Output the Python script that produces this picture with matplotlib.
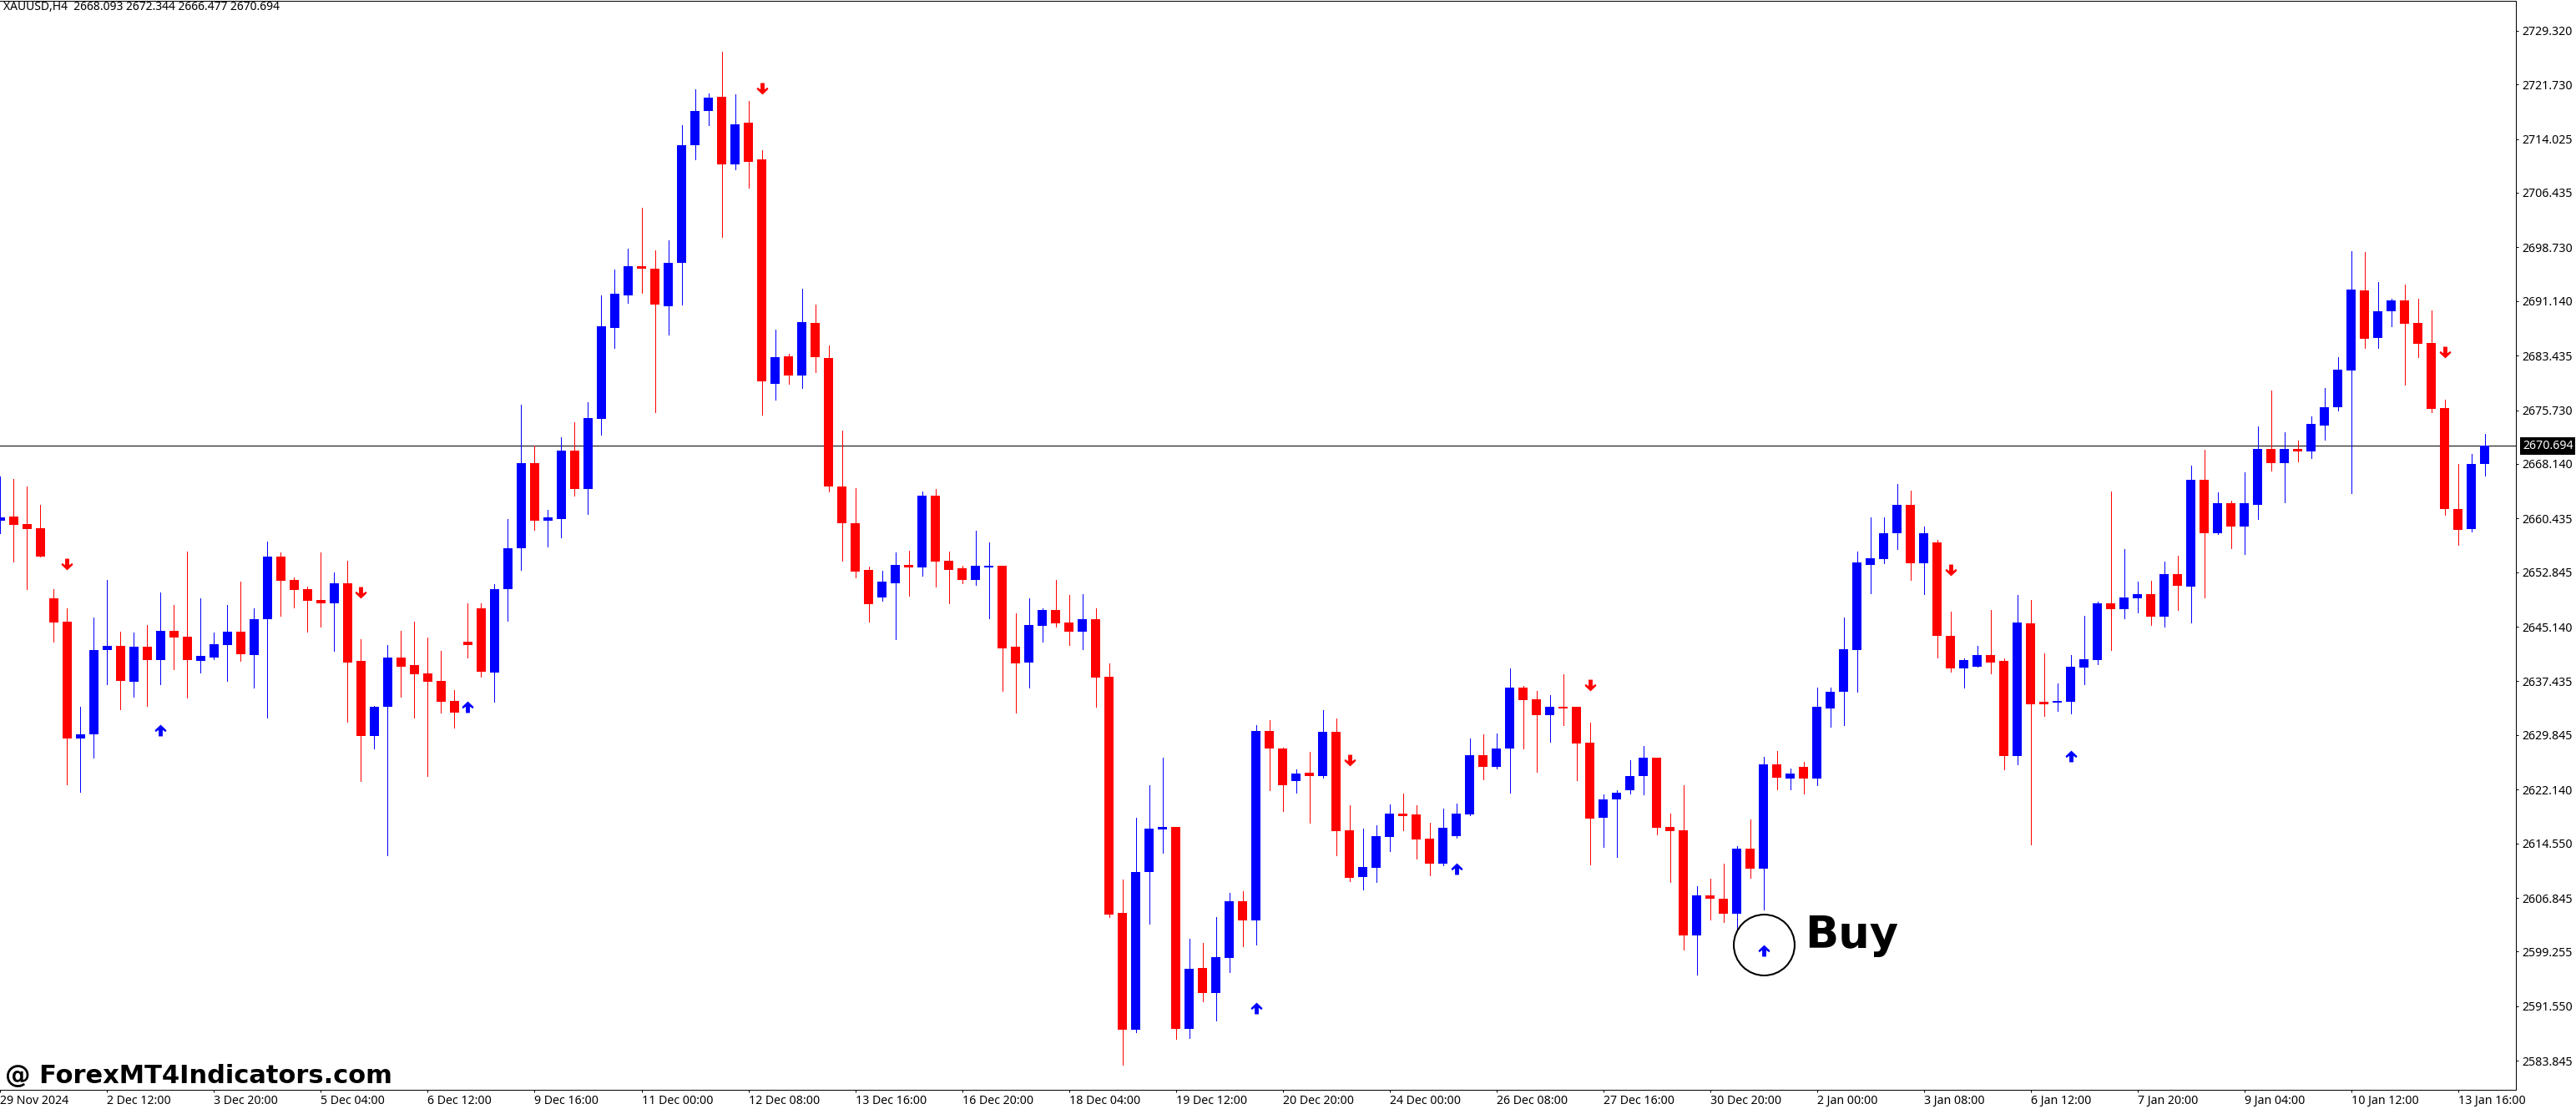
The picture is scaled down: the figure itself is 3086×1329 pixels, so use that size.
#!/usr/bin/env python

import matplotlib
matplotlib.use('Agg')
import matplotlib.pyplot as plt
from matplotlib.path import Path
import numpy as np

plt.rcParams['font.family'] = ['Noto Sans', 'DejaVu Sans']

# b = bull candle (blue), r = bear candle (red)
directions = ("brrrrrbbbr" "brbrrbbbrb" "brrrrbrrbb" "rrrrrrrbbb" "rbbrbbbbrr"
              "bbbbrbrrbr" "brrrrrbbrb" "rrrbbrrbbr" "rbrrrbbbrb" "rbbrbrrbrb"
              "rrbbbrrrbb" "brbbrrbrrr" "bbbbrrrbrr" "brbrbrbbbb" "bbbrbrrbbr"
              "rbrrbbbbrb" "brbrbrbrbb" "rbrbbbbrbb" "rrrrrbb")

highs = [2666.4, 2666.0, 2665.0, 2662.3, 2650.4, 2647.7, 2633.8, 2646.4, 2651.8, 2644.4,
         2644.3, 2645.4, 2650.0, 2648.2, 2655.7, 2649.2, 2644.3, 2648.2, 2651.5, 2647.8,
         2657.2, 2655.6, 2652.1, 2650.8, 2655.6, 2652.8, 2654.5, 2643.4, 2634.0, 2642.6,
         2644.6, 2645.8, 2643.6, 2641.7, 2636.2, 2648.5, 2648.4, 2651.2, 2660.4, 2676.5,
         2670.7, 2661.7, 2671.9, 2674.0, 2676.9, 2691.9, 2695.6, 2698.5, 2704.3, 2698.3,
         2699.7, 2716.0, 2721.1, 2720.5, 2726.3, 2720.4, 2719.4, 2712.5, 2687.1, 2683.7,
         2692.9, 2690.6, 2684.9, 2672.9, 2664.7, 2653.6, 2653.1, 2655.6, 2655.9, 2664.2,
         2664.6, 2655.8, 2653.7, 2658.7, 2657.1, 2653.8, 2647.0, 2649.1, 2647.7, 2651.7,
         2649.6, 2649.8, 2647.8, 2640.0, 2609.4, 2618.2, 2622.8, 2626.6, 2616.9, 2601.1,
         2600.5, 2604.1, 2607.6, 2607.8, 2631.3, 2632.0, 2628.1, 2625.0, 2627.5, 2633.4,
         2632.2, 2619.9, 2616.6, 2617.1, 2620.1, 2621.6, 2619.9, 2617.4, 2619.5, 2620.2,
         2629.3, 2629.9, 2630.1, 2639.2, 2636.8, 2636.1, 2635.5, 2638.4, 2633.8, 2631.6,
         2621.5, 2622.0, 2626.3, 2628.3, 2626.7, 2618.8, 2622.8, 2608.5, 2609.6, 2611.7,
         2614.2, 2617.9, 2626.8, 2627.6, 2625.1, 2626.0, 2636.6, 2636.5, 2646.4, 2655.8,
         2660.6, 2660.6, 2665.3, 2664.4, 2659.3, 2657.4, 2647.3, 2640.7, 2642.4, 2647.5,
         2640.7, 2649.6, 2648.9, 2641.4, 2637.1, 2641.2, 2646.7, 2648.7, 2664.3, 2656.1,
         2651.5, 2651.6, 2654.4, 2655.2, 2667.9, 2670.1, 2664.1, 2662.9, 2667.0, 2673.4,
         2678.5, 2672.6, 2671.4, 2674.8, 2678.8, 2683.2, 2698.2, 2698.1, 2693.8, 2691.5,
         2693.5, 2691.5, 2689.8, 2677.2, 2668.1, 2669.5, 2672.344]

body_tops = [2660.6, 2660.7, 2659.7, 2659.0, 2649.1, 2645.8, 2630.0, 2641.9, 2642.4, 2642.4,
             2642.3, 2642.3, 2644.6, 2644.6, 2643.7, 2641.0, 2642.7, 2644.5, 2644.5, 2646.2,
             2655.1, 2655.1, 2651.7, 2650.4, 2648.9, 2651.3, 2651.3, 2640.3, 2633.8, 2640.8,
             2640.8, 2639.7, 2638.5, 2637.5, 2634.7, 2643.0, 2647.8, 2650.5, 2656.2, 2668.3,
             2668.2, 2660.6, 2670.0, 2670.0, 2674.6, 2687.6, 2692.2, 2696.1, 2696.1, 2695.7,
             2696.5, 2713.2, 2718.0, 2719.9, 2720.0, 2716.1, 2716.3, 2711.1, 2683.2, 2683.3,
             2688.2, 2688.0, 2683.1, 2664.9, 2659.8, 2653.2, 2651.5, 2653.9, 2653.9, 2663.6,
             2663.6, 2654.5, 2653.4, 2653.7, 2653.8, 2653.8, 2642.3, 2645.4, 2647.5, 2647.5,
             2645.7, 2646.2, 2646.2, 2638.1, 2604.7, 2610.5, 2616.6, 2616.9, 2616.9, 2596.8,
             2596.9, 2598.5, 2606.4, 2606.4, 2630.4, 2630.4, 2628.0, 2624.4, 2624.5, 2630.3,
             2630.3, 2616.4, 2611.2, 2615.6, 2618.8, 2618.8, 2618.6, 2615.2, 2616.8, 2618.8,
             2627.0, 2627.0, 2628.0, 2636.5, 2636.6, 2634.9, 2633.8, 2633.8, 2633.8, 2628.8,
             2620.8, 2621.7, 2624.1, 2626.7, 2626.7, 2616.9, 2616.4, 2607.2, 2607.2, 2606.7,
             2613.8, 2613.8, 2625.7, 2625.7, 2624.4, 2625.3, 2633.8, 2635.9, 2642.0, 2654.2,
             2654.8, 2658.4, 2662.3, 2662.3, 2658.4, 2657.0, 2643.8, 2640.4, 2641.1, 2641.1,
             2640.3, 2645.7, 2645.6, 2634.5, 2634.7, 2639.5, 2640.5, 2648.4, 2648.4, 2649.3,
             2649.8, 2649.8, 2652.6, 2652.6, 2665.9, 2665.9, 2662.6, 2662.6, 2662.6, 2670.3,
             2670.2, 2670.2, 2670.3, 2673.8, 2676.2, 2681.4, 2692.8, 2692.6, 2689.7, 2691.2,
             2691.2, 2688.0, 2685.2, 2676.0, 2661.8, 2668.1, 2670.694]

body_bottoms = [2660.1, 2659.5, 2658.9, 2655.1, 2645.7, 2629.3, 2629.3, 2629.9, 2641.8, 2637.5,
                2637.4, 2640.4, 2640.4, 2643.6, 2640.4, 2640.3, 2640.8, 2642.6, 2641.3, 2641.2,
                2646.2, 2651.6, 2650.3, 2648.8, 2648.5, 2648.5, 2640.1, 2629.7, 2629.7, 2633.8,
                2639.5, 2638.4, 2637.4, 2634.5, 2633.0, 2642.5, 2638.8, 2638.7, 2650.4, 2656.2,
                2660.1, 2660.1, 2660.4, 2664.6, 2664.6, 2674.5, 2687.3, 2691.9, 2695.7, 2690.6,
                2690.4, 2696.5, 2713.2, 2718.0, 2710.4, 2710.5, 2710.8, 2679.8, 2679.5, 2680.6,
                2680.6, 2683.2, 2664.9, 2659.8, 2652.9, 2648.3, 2649.3, 2651.3, 2653.5, 2653.5,
                2654.4, 2653.2, 2651.7, 2651.7, 2653.5, 2642.1, 2640.0, 2640.1, 2645.3, 2645.6,
                2644.5, 2644.5, 2638.0, 2604.5, 2588.2, 2588.2, 2610.5, 2616.5, 2588.3, 2588.3,
                2593.4, 2593.4, 2598.4, 2603.7, 2603.7, 2627.9, 2622.8, 2623.4, 2624.1, 2624.0,
                2616.3, 2609.7, 2609.8, 2611.1, 2615.5, 2618.4, 2615.1, 2611.7, 2611.7, 2615.6,
                2618.6, 2625.4, 2625.4, 2627.9, 2634.8, 2632.7, 2632.7, 2633.6, 2628.7, 2618.1,
                2618.2, 2620.7, 2622.0, 2624.1, 2616.8, 2616.3, 2601.5, 2601.5, 2606.7, 2604.6,
                2604.6, 2611.0, 2611.0, 2623.8, 2623.7, 2623.7, 2623.7, 2633.6, 2635.9, 2641.9,
                2653.9, 2654.7, 2658.3, 2654.1, 2654.1, 2643.8, 2639.3, 2639.3, 2639.5, 2640.1,
                2626.9, 2626.9, 2634.2, 2634.2, 2634.4, 2634.5, 2639.4, 2640.4, 2647.6, 2647.6,
                2649.2, 2646.6, 2646.6, 2650.9, 2650.8, 2658.3, 2658.3, 2659.3, 2659.3, 2662.3,
                2668.2, 2668.2, 2669.9, 2669.9, 2673.5, 2676.1, 2681.3, 2685.8, 2685.9, 2689.7,
                2687.9, 2685.1, 2675.9, 2661.8, 2658.8, 2658.9, 2668.093]

lows = [2658.3, 2654.4, 2650.4, 2655.1, 2643.0, 2622.9, 2621.8, 2626.6, 2637.0, 2633.5,
        2635.2, 2633.9, 2637.0, 2639.1, 2635.1, 2638.7, 2640.6, 2637.5, 2640.3, 2636.5,
        2632.3, 2646.7, 2647.9, 2644.5, 2645.2, 2641.7, 2631.7, 2623.4, 2628.0, 2612.9,
        2635.2, 2632.3, 2624.0, 2633.0, 2630.9, 2640.8, 2638.1, 2634.5, 2646.0, 2653.2,
        2658.8, 2656.5, 2657.8, 2663.6, 2661.1, 2672.2, 2684.5, 2690.9, 2692.3, 2675.4,
        2686.4, 2690.6, 2711.1, 2716.0, 2700.2, 2709.7, 2707.2, 2675.1, 2677.2, 2679.4,
        2678.8, 2681.1, 2664.3, 2654.5, 2652.1, 2645.9, 2648.8, 2643.4, 2649.5, 2652.3,
        2650.8, 2648.4, 2651.3, 2651.0, 2646.3, 2636.1, 2633.0, 2636.6, 2643.0, 2645.1,
        2642.6, 2642.0, 2633.8, 2604.1, 2583.3, 2587.9, 2603.2, 2613.2, 2586.9, 2587.0,
        2592.2, 2589.5, 2596.3, 2600.0, 2600.2, 2622.1, 2619.1, 2621.7, 2617.5, 2623.8,
        2612.9, 2609.2, 2608.0, 2609.1, 2613.5, 2616.4, 2612.4, 2610.0, 2611.5, 2615.3,
        2618.5, 2623.6, 2625.1, 2621.7, 2627.9, 2624.7, 2628.9, 2631.3, 2623.5, 2611.6,
        2614.0, 2612.6, 2621.6, 2621.5, 2615.8, 2609.1, 2599.5, 2596.0, 2603.8, 2603.4,
        2602.3, 2609.7, 2605.2, 2622.2, 2622.2, 2621.6, 2622.7, 2631.0, 2631.2, 2635.9,
        2649.9, 2654.1, 2656.1, 2651.8, 2649.8, 2640.8, 2638.8, 2636.6, 2639.5, 2638.5,
        2625.0, 2625.7, 2614.4, 2632.5, 2633.2, 2632.9, 2637.0, 2639.9, 2641.8, 2646.3,
        2647.1, 2645.4, 2645.1, 2647.5, 2645.7, 2649.3, 2658.2, 2656.2, 2655.4, 2660.3,
        2667.2, 2662.7, 2668.5, 2668.9, 2671.5, 2675.7, 2664.0, 2684.5, 2684.5, 2687.6,
        2679.3, 2683.2, 2675.4, 2661.0, 2656.7, 2658.6, 2666.477]

# indicator arrows: bar index and price
buy_bars = [12, 35, 94, 109, 132, 155]
buy_prices = [2630.5, 2633.8, 2591.3, 2611.0, 2599.4, 2626.9]
sell_bars = [5, 27, 57, 101, 119, 146, 183]
sell_prices = [2654.0, 2650.0, 2721.2, 2626.3, 2636.9, 2653.2, 2683.9]

price_ticks = [2729.320, 2721.730, 2714.025, 2706.435, 2698.730, 2691.140, 2683.435,
               2675.730, 2668.140, 2660.435, 2652.845, 2645.140, 2637.435, 2629.845,
               2622.140, 2614.550, 2606.845, 2599.255, 2591.550, 2583.845]
time_labels = ['29 Nov 2024', '2 Dec 12:00', '3 Dec 20:00', '5 Dec 04:00', '6 Dec 12:00',
               '9 Dec 16:00', '11 Dec 00:00', '12 Dec 08:00', '13 Dec 16:00', '16 Dec 20:00',
               '18 Dec 04:00', '19 Dec 12:00', '20 Dec 20:00', '24 Dec 00:00', '26 Dec 08:00',
               '27 Dec 16:00', '30 Dec 20:00', '2 Jan 00:00', '3 Jan 08:00', '6 Jan 12:00',
               '7 Jan 20:00', '9 Jan 04:00', '10 Jan 12:00', '13 Jan 16:00']
last_price = 2670.694
header = 'XAUUSD,H4  2668.093 2672.344 2666.477 2670.694'

W, H = 3086, 1329
fig = plt.figure(figsize=(W/100, H/100), dpi=100)
ax = fig.add_axes([0, 23/H, 3014/W, 1305.5/H])

x = np.arange(len(highs))
colors = ['#0000ff' if d == 'b' else '#ff0000' for d in directions]
tops = np.array(body_tops)
bots = np.array(body_bottoms)

# Wicks, then the bodies on top
ax.vlines(x, lows, highs, colors=colors, linewidth=0.72, antialiased=False, zorder=2)
ax.bar(x, np.maximum(tops-bots, 0.15), bottom=bots, width=11/16, color=colors,
       linewidth=0, antialiased=False, zorder=3)

ax.axhline(last_price, color='black', linewidth=0.72, antialiased=False, zorder=1)

# Small arrows from the indicator
up_verts = [(-1, 0.05), (0, 1), (1, 0.05), (0.85, -0.25), (0.35, 0.1), (0.35, -1),
            (-0.35, -1), (-0.35, 0.1), (-0.85, -0.25), (-1, 0.05)]
up_arrow = Path(up_verts, closed=True)
down_arrow = Path([(vx, -vy) for vx, vy in up_verts], closed=True)
ax.plot(buy_bars, buy_prices, linestyle='none', marker=up_arrow, markersize=10,
        color='#0000ff', markeredgewidth=0, zorder=4)
ax.plot(sell_bars, sell_prices, linestyle='none', marker=down_arrow, markersize=10,
        color='#ff0000', markeredgewidth=0, zorder=4)

# Annotated buy signal
ax.plot([132], [2600.3], linestyle='none', marker='o', markersize=52.5,
        markerfacecolor='none', markeredgecolor='black', markeredgewidth=1.5, zorder=5)
ax.text(135.1, 2599.76, 'Buy', fontsize=38, fontweight='bold', family='DejaVu Sans',
        va='baseline', ha='left', color='black', zorder=6)

ax.set_xlim(-0.03, 188.34)
ax.set_ylim(2579.74, 2733.6)

ax.yaxis.tick_right()
ax.set_yticks(price_ticks)
ax.set_yticklabels(['%.3f' % p for p in price_ticks])
ax.set_xticks(x[::8])
ax.set_xticklabels(time_labels, ha='left')
ax.tick_params(axis='y', length=2.5, width=0.72, pad=3, labelsize=10.2, colors='black')
ax.tick_params(axis='x', length=2.5, width=0.72, pad=1.5, labelsize=10.2, colors='black')
ax.spines['left'].set_visible(False)
for s in ['top', 'right', 'bottom']:
    ax.spines[s].set_linewidth(0.72)
    ax.spines[s].set_antialiased(False)

# Last price tag on the axis
ax.annotate('%.3f' % last_price, xy=(1, last_price), xycoords=('axes fraction', 'data'),
            xytext=(8, 0), textcoords='offset pixels', ha='left', va='center',
            fontsize=10.2, color='white', annotation_clip=False, zorder=7,
            bbox=dict(boxstyle='square,pad=0.2', facecolor='black', edgecolor='black', linewidth=0))

fig.text(4/W, 1-8/H, header, fontsize=10, color='black', ha='left', va='center')
fig.text(6/W, 1-1298/H, '@ ForexMT4Indicators.com', fontsize=22, fontweight='bold',
         family='DejaVu Sans', color='black', ha='left', va='baseline')

fig.savefig('out.png', dpi=100, facecolor='white')
